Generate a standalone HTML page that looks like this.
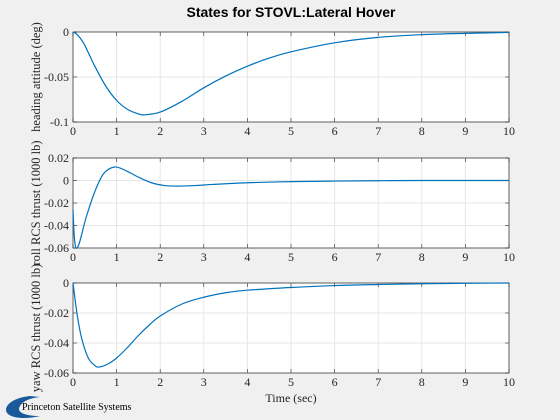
<!DOCTYPE html>
<html><head><meta charset="utf-8">
<style>
body{margin:0;background:#f0f0f0;width:560px;height:420px;overflow:hidden;font-family:"Liberation Serif",serif;}
svg{display:block}
</style></head>
<body>
<svg id="chart" width="560" height="420">
<text x="291" y="17" text-anchor="middle" font-family="Liberation Sans, sans-serif" font-weight="bold" font-size="14">States for STOVL:Lateral Hover</text>
<g>
<path d="M30 396 C10 398 2 408 8 414 C14 419 28 419 40 416 C24 416 16 412 20 406 C23 401 30 398 40 397 Z" fill="#1b5a9a"/>
<text x="22" y="410" font-size="10" fill="#000">Princeton Satellite Systems</text>
</g>
</svg>
<script>
const xTicks=[0,1,2,3,4,5,6,7,8,9,10];
const t1=[0,0.1,0.25,0.5,0.75,1,1.25,1.5,1.65,2,2.5,3,3.5,4,4.5,5,6,7,8,9,10];
const v1=[0,-0.003,-0.013,-0.038,-0.06,-0.076,-0.086,-0.091,-0.092,-0.089,-0.077,-0.062,-0.049,-0.038,-0.029,-0.022,-0.012,-0.006,-0.003,-0.0015,-0.0005];
const yTicks1=[0,-0.05,-0.1];
const yLabels1=["0","-0.05","-0.1"];
const t2=[0,0.03,0.07,0.15,0.3,0.5,0.7,0.95,1.2,1.5,1.8,2.1,2.4,2.8,3.2,4,5,6,7,8,10];
const v2=[-0.026,-0.05,-0.06,-0.055,-0.033,-0.01,0.006,0.012,0.009,0.003,-0.002,-0.0045,-0.005,-0.0045,-0.0035,-0.002,-0.001,-0.0005,-0.0002,0,0];
const yTicks2=[0.02,0,-0.02,-0.04,-0.06];
const yLabels2=["0.02","0","-0.02","-0.04","-0.06"];
const t3=[0,0.1,0.2,0.35,0.5,0.6,0.8,1,1.25,1.5,1.75,2,2.5,3,3.5,4,5,6,7,8,9,10];
const v3=[0,-0.022,-0.037,-0.05,-0.055,-0.056,-0.054,-0.05,-0.043,-0.035,-0.028,-0.022,-0.014,-0.0095,-0.0065,-0.0048,-0.003,-0.0017,-0.001,-0.0005,-0.0002,0];
const yTicks3=[0,-0.02,-0.04,-0.06];
const yLabels3=["0","-0.02","-0.04","-0.06"];

const NS="http://www.w3.org/2000/svg";
const svg=document.getElementById('chart');
const L=73,R=509;
function mk(tag,attrs){const e=document.createElementNS(NS,tag);for(const k in attrs)e.setAttribute(k,attrs[k]);svg.appendChild(e);return e;}
function panel(top,bot,ymax,ymin,ts,vs,yt,yl,ylabel,name){
  const xs=t=>L+(t-0)/(10-0)*(R-L);
  const ys=v=>top+(ymax-v)/(ymax-ymin)*(bot-top);
  const bg=mk('rect',{x:L,y:top,width:R-L,height:bot-top,fill:'#fff'});
  
  
  xTicks.forEach(t=>{
    const g=mk('line',{x1:xs(t),x2:xs(t),y1:top,y2:bot,stroke:'#e6e6e6','stroke-width':1});
    
    
    mk('line',{x1:xs(t),x2:xs(t),y1:bot,y2:bot-4,stroke:'#262626','stroke-width':0.6});
    mk('line',{x1:xs(t),x2:xs(t),y1:top,y2:top+4,stroke:'#262626','stroke-width':0.6});
    const lb=mk('text',{x:xs(t),y:bot+13,'text-anchor':'middle','font-size':12,fill:'#262626'});
    lb.textContent=t;
    
    
  });
  yt.forEach((v,i)=>{
    const g=mk('line',{x1:L,x2:R,y1:ys(v),y2:ys(v),stroke:'#e6e6e6','stroke-width':1});
    
    
    mk('line',{x1:L,x2:L+4,y1:ys(v),y2:ys(v),stroke:'#262626','stroke-width':0.6});
    mk('line',{x1:R,x2:R-4,y1:ys(v),y2:ys(v),stroke:'#262626','stroke-width':0.6});
    const lb=mk('text',{x:L-4,y:ys(v)+4,'text-anchor':'end','font-size':12,fill:'#262626'});
    lb.textContent=yl[i];
    
    
  });
  const fr=mk('rect',{x:L,y:top,width:R-L,height:bot-top,fill:'none',stroke:'#262626','stroke-width':0.7});
  
  
  const P=ts.map((t,i)=>[xs(t),ys(vs[i])]);
  let d='M'+P[0][0]+' '+P[0][1];
  for(let i=0;i<P.length-1;i++){
    const p0=P[Math.max(0,i-1)],p1=P[i],p2=P[i+1],p3=P[Math.min(P.length-1,i+2)];
    const c1=[p1[0]+(p2[0]-p0[0])/6,p1[1]+(p2[1]-p0[1])/6];
    const c2=[p2[0]-(p3[0]-p1[0])/6,p2[1]-(p3[1]-p1[1])/6];
    d+=` C${c1[0]} ${c1[1]} ${c2[0]} ${c2[1]} ${p2[0]} ${p2[1]}`;
  }
  const ln=mk('path',{d:d,fill:'none',stroke:'#0072bd','stroke-width':1.2});
  
  
  const cy=(top+bot)/2;
  const yt2=mk('text',{x:0,y:0,'text-anchor':'middle','font-size':12.5,fill:'#262626',transform:`translate(40,${cy}) rotate(-90)`});
  yt2.textContent=ylabel;
  
  
}
panel(32,122,0,-0.1,t1,v1,yTicks1,yLabels1,'heading attitude (deg)','heading');
panel(158,248,0.02,-0.06,t2,v2,yTicks2,yLabels2,'roll RCS thrust (1000 lb)','roll');
panel(283,373,0,-0.06,t3,v3,yTicks3,yLabels3,'yaw RCS thrust (1000 lb)','yaw');
const xt=mk('text',{x:291,y:402,'text-anchor':'middle','font-size':12,fill:'#262626'});
xt.textContent='Time (sec)';


</script>
</body></html>
